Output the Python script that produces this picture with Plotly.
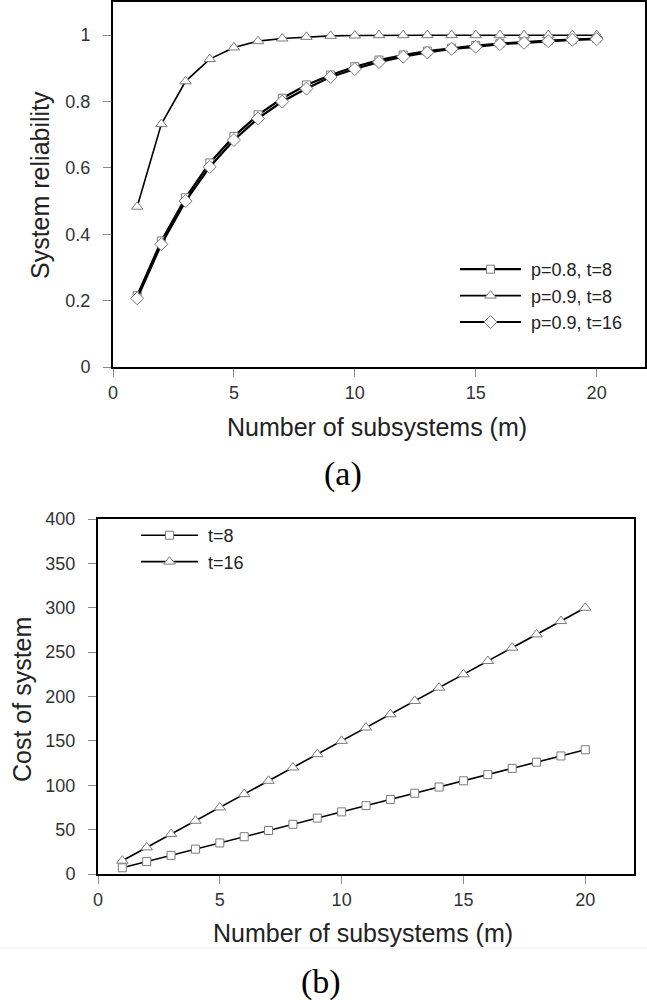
import plotly.graph_objects as go

m = [1, 2, 3, 4, 5, 6, 7, 8, 9, 10, 11, 12, 13, 14, 15, 16, 17, 18, 19, 20]

rel_p08_t8 = [0.215, 0.38, 0.51, 0.615, 0.695, 0.76, 0.81, 0.85, 0.88, 0.905,
              0.925, 0.94, 0.952, 0.961, 0.969, 0.975, 0.98, 0.984, 0.987, 0.99]
rel_p09_t8 = [0.483, 0.732, 0.861, 0.928, 0.963, 0.982, 0.99, 0.995, 0.998, 0.999,
              1.0, 1.0, 1.0, 1.0, 1.0, 1.0, 1.0, 1.0, 1.0, 1.0]
rel_p09_t16 = [0.207, 0.37, 0.50, 0.603, 0.684, 0.749, 0.80, 0.839, 0.874, 0.898,
               0.919, 0.935, 0.948, 0.959, 0.965, 0.973, 0.977, 0.982, 0.986, 0.988]

cost_t8 = [7, 14, 21, 28, 35, 42, 49, 56, 63, 70, 77, 84, 91, 98, 105, 112, 119, 126, 133, 140]
cost_t16 = [15, 30, 45, 60, 75, 90, 105, 120, 135, 150, 165, 180, 195, 210, 225, 240, 255, 270, 285, 300]

x_ticks = [0, 5, 10, 15, 20]
y1_ticks = [0, 0.2, 0.4, 0.6, 0.8, 1]
y1_labels = ["0", "0.2", "0.4", "0.6", "0.8", "1"]
y2_ticks = [0, 50, 100, 150, 200, 250, 300, 350, 400]

FONT = "Liberation Sans, Arial, sans-serif"
MK_LINE = dict(color="#7a7a7a", width=1)
NB = "\u00a0"

fig = go.Figure()

fig.add_trace(go.Scatter(x=m, y=rel_p08_t8, mode="lines+markers", name=NB + "p=0.8, t=8",
                         line=dict(color="black", width=2.2),
                         marker=dict(symbol="square", size=8, color="white", line=MK_LINE),
                         xaxis="x", yaxis="y", legend="legend"))
fig.add_trace(go.Scatter(x=m, y=rel_p09_t8, mode="lines+markers", name=NB + "p=0.9, t=8",
                         line=dict(color="black", width=1.6),
                         marker=dict(symbol="triangle-up", size=10, color="white", line=MK_LINE),
                         xaxis="x", yaxis="y", legend="legend"))
fig.add_trace(go.Scatter(x=m, y=rel_p09_t16, mode="lines+markers", name=NB + "p=0.9, t=16",
                         line=dict(color="black", width=2.2),
                         marker=dict(symbol="diamond", size=10, color="white", line=MK_LINE),
                         xaxis="x", yaxis="y", legend="legend"))

fig.add_trace(go.Scatter(x=m, y=cost_t8, mode="lines+markers", name=NB + "t=8",
                         line=dict(color="black", width=1.6),
                         marker=dict(symbol="square", size=8, color="white", line=MK_LINE),
                         xaxis="x2", yaxis="y2", legend="legend2"))
fig.add_trace(go.Scatter(x=m, y=cost_t16, mode="lines+markers", name=NB + "t=16",
                         line=dict(color="black", width=1.6),
                         marker=dict(symbol="triangle-up", size=10, color="white", line=MK_LINE),
                         xaxis="x2", yaxis="y2", legend="legend2"))

axis_common = dict(showgrid=False, zeroline=False, showline=True, linecolor="black",
                   linewidth=2, mirror=True, ticks="outside", ticklen=8, tickwidth=1,
                   automargin=False,
                   tickcolor="#8a8a8a", tickfont=dict(family=FONT, size=18, color="#333333"))

fig.update_layout(
    width=647, height=1000,
    margin=dict(l=0, r=0, t=0, b=0, autoexpand=False),
    paper_bgcolor="white", plot_bgcolor="white",
    font=dict(family=FONT, color="#222222"),
    xaxis=dict(domain=[113/647, 645/647], range=[0, 22], tickvals=x_ticks,
               anchor="y", ticklabelstandoff=0, **axis_common),
    yaxis=dict(domain=[1-367/1000, 1-2/1000], range=[0, 1.1], tickvals=y1_ticks,
               ticktext=y1_labels, anchor="x", ticklabelstandoff=9, **axis_common),
    xaxis2=dict(domain=[98/647, 634/647], range=[0, 22], tickvals=x_ticks,
                anchor="y2", ticklabelstandoff=0, **axis_common),
    yaxis2=dict(domain=[1-874/1000, 1-519/1000], range=[0, 400], tickvals=y2_ticks,
                anchor="x2", ticklabelstandoff=9, **axis_common),
    legend=dict(x=455/647, y=1-251/1000, xanchor="left", yanchor="top",
                bgcolor="rgba(0,0,0,0)", font=dict(family=FONT, size=18, color="#222222"),
                itemwidth=61, tracegroupgap=0),
    legend2=dict(x=136/647, y=1-517/1000, xanchor="left", yanchor="top",
                 bgcolor="rgba(0,0,0,0)", font=dict(family=FONT, size=18, color="#222222"),
                 itemwidth=57, tracegroupgap=0),
    showlegend=True,
)

annots = [
    dict(text="System reliability", x=40/647, y=1-185/1000, textangle=-90, font=dict(size=25)),
    dict(text="Number of subsystems (m)", x=377/647, y=1-427/1000, font=dict(size=25)),
    dict(text="(a)", x=343/647, y=1-474/1000,
         font=dict(size=34, family="Liberation Serif, Times New Roman, serif", color="black")),
    dict(text="Cost of system", x=22/647, y=1-700/1000, textangle=-90, font=dict(size=25)),
    dict(text="Number of subsystems (m)", x=363/647, y=1-933/1000, font=dict(size=25)),
    dict(text="(b)", x=321/647, y=1-982/1000,
         font=dict(size=34, family="Liberation Serif, Times New Roman, serif", color="black")),
]
for a in annots:
    fig.add_annotation(xref="paper", yref="paper", showarrow=False,
                       xanchor="center", yanchor="middle", **a)

fig.add_shape(type="line", xref="paper", yref="paper", x0=0, x1=1,
              y0=1-948/1000, y1=1-948/1000, line=dict(color="#eeeeea", width=1))

fig.write_html("out.html", config={"displayModeBar": False},
               post_script="document.body.style.margin='0';document.body.style.overflow='hidden';")
